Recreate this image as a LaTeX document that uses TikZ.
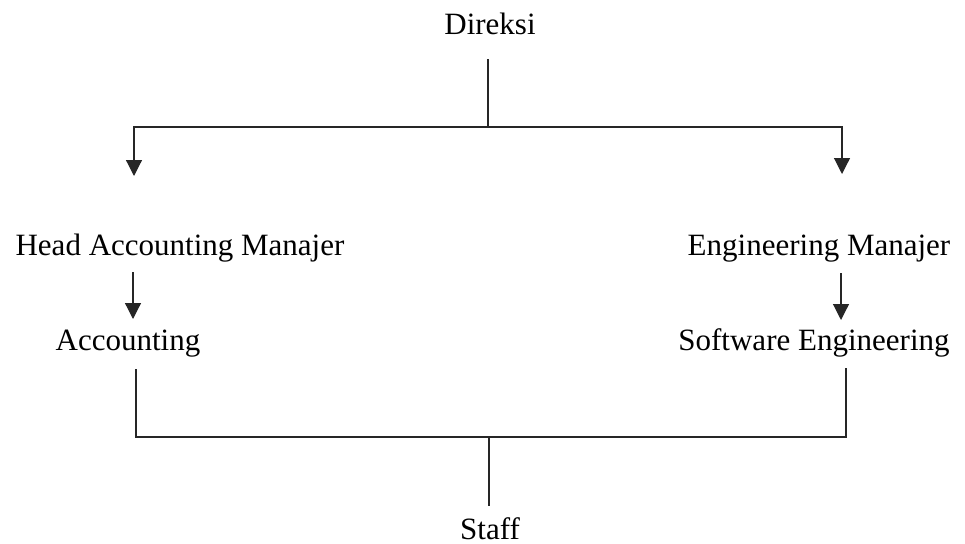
\documentclass[tikz,border=0pt]{standalone}
\usepackage{fontspec}
\setmainfont{Liberation Serif}
\usetikzlibrary{arrows.meta}
\begin{document}
\begin{tikzpicture}[x=1pt,y=1pt,
  lbl/.style={anchor=base,inner sep=0pt,font=\fontsize{31}{37}\selectfont},
  conn/.style={line width=1.2pt,draw=black!85},
  arr/.style={conn,-{Triangle[width=16pt,length=16pt]}}]
\useasboundingbox (0,0) rectangle (965,-543);
% nodes
\node[lbl] (dir) at (490,-35) {Direksi};
\node[lbl] (ham) at (180,-255) {Head Accounting Manajer};
\node[lbl] (em) at (819,-255) {Engineering Manajer};
\node[lbl] (acc) at (128,-350) {Accounting};
\node[lbl] (se) at (814,-350) {Software Engineering};
\node[lbl] (staff) at (490,-539) {Staff};
% junction coordinates
\coordinate (dtop) at (488,-59);
\coordinate (dj) at (488,-127);
\coordinate (hamin) at (134,-176);
\coordinate (emin) at (842,-174);
\coordinate (hamout) at (133,-272);
\coordinate (accin) at (133,-319);
\coordinate (emout) at (841,-273);
\coordinate (sein) at (841,-320);
\coordinate (accout) at (136,-369);
\coordinate (seout) at (846,-368);
\coordinate (sj) at (489,-437);
\coordinate (stin) at (489,-506);
% connectors
\draw[conn] (dtop) -- (dj);
\draw[arr] (dj) -| (hamin);
\draw[arr] (dj) -| (emin);
\draw[arr] (hamout) -- (accin);
\draw[arr] (emout) -- (sein);
\draw[conn] (accout) |- (sj);
\draw[conn] (seout) |- (sj);
\draw[conn] (sj) -- (stin);
\end{tikzpicture}
\end{document}
